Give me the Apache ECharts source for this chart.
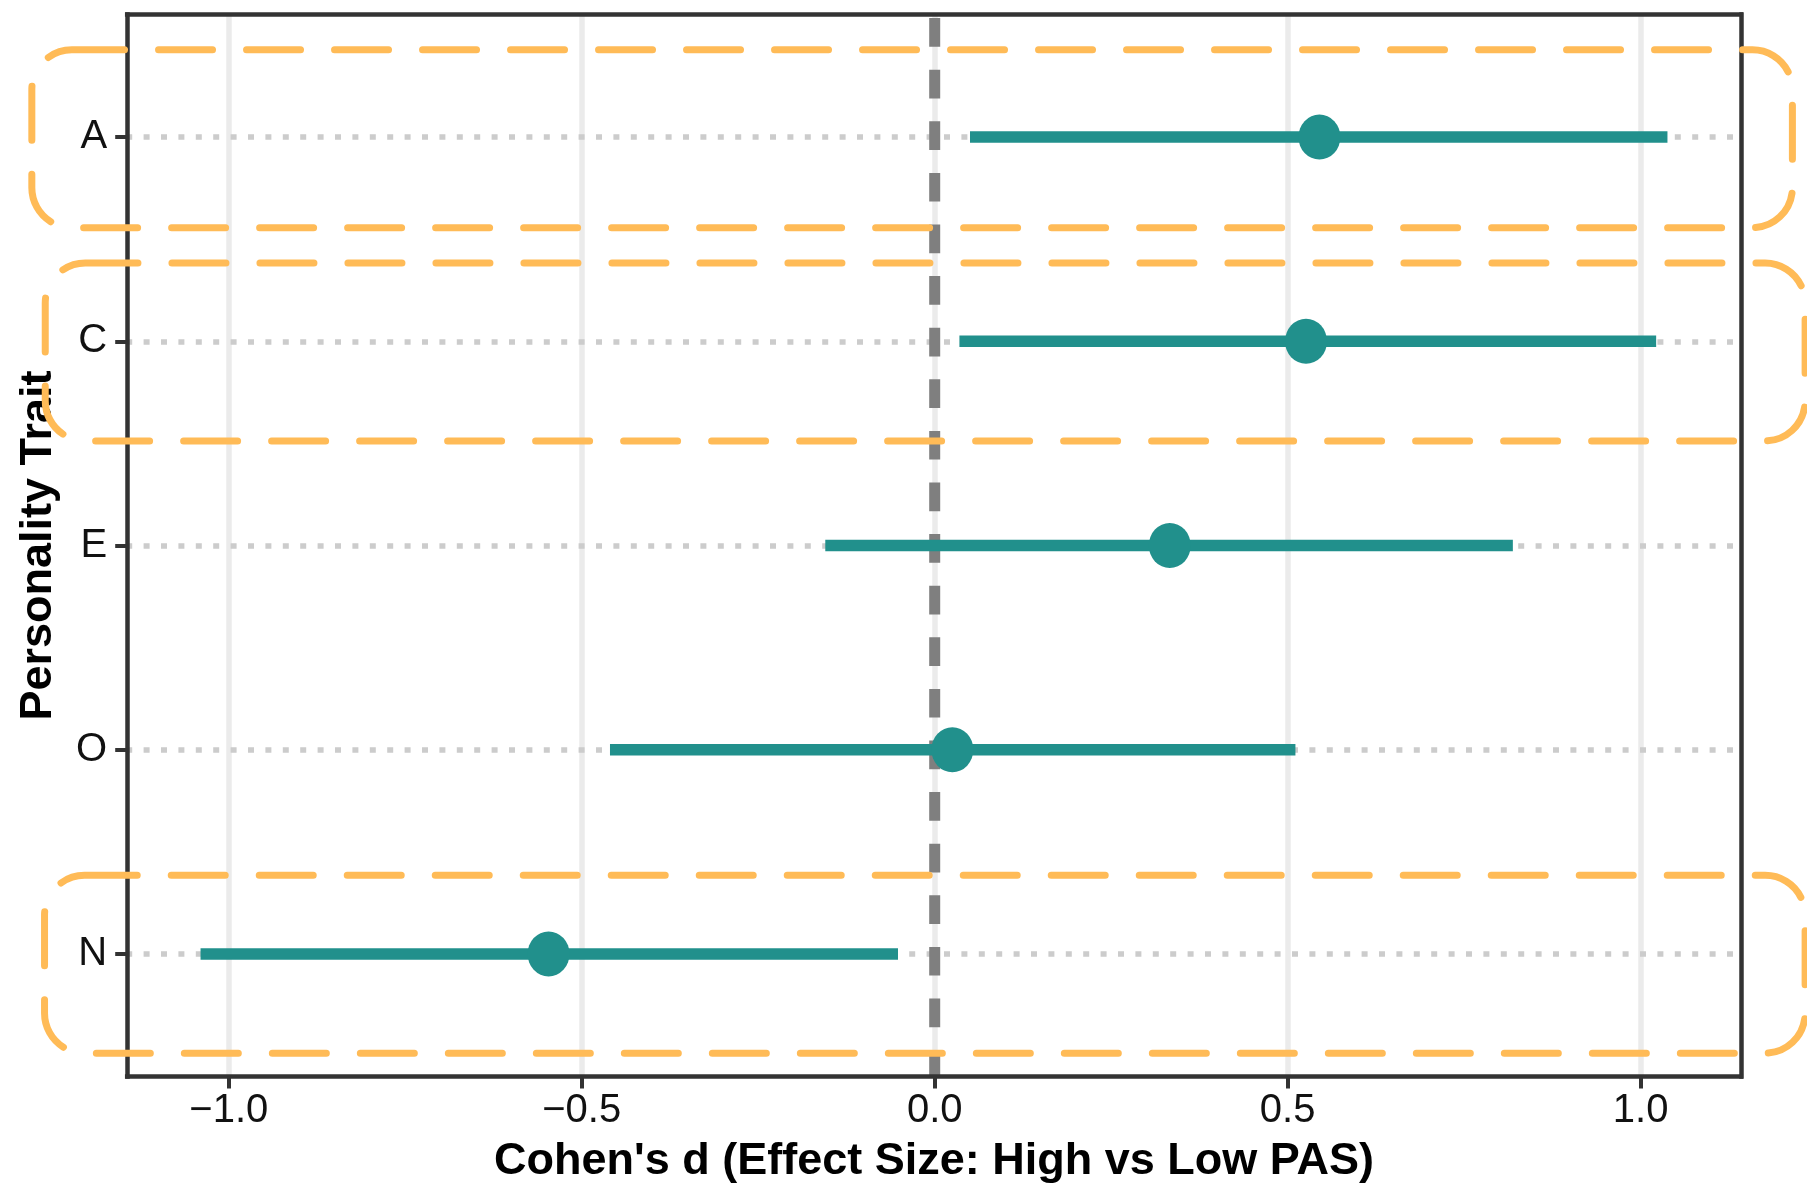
<!DOCTYPE html>
<html>
<head>
<meta charset="utf-8">
<title>Cohen's d by personality trait</title>
<script src="https://cdn.jsdelivr.net/npm/echarts@6/dist/echarts.min.js"></script>
<style>
  html, body { margin: 0; padding: 0; background: #ffffff; }
  #chart { width: 1807px; height: 1199px; }
</style>
</head>
<body>
<div id="chart"></div>
<script>
// Big Five traits, listed top to bottom
const traits = ['A', 'C', 'E', 'O', 'N'];
// Effect size (Cohen's d, high vs low PAS) with its confidence interval
const cohensD = [0.545, 0.526, 0.333, 0.025, -0.547];
const ciLower = [0.050, 0.035, -0.155, -0.460, -1.040];
const ciUpper = [1.038, 1.022, 0.819, 0.511, -0.052];
// x-axis tick values
const xTicks = [-1.0, -0.5, 0.0, 0.5, 1.0];
// no-effect reference
const referenceD = 0;

// highlighted rows (extents in data units)
const highlightTraits = ['A', 'C', 'N'];
const highlightXFrom = [-1.279, -1.260, -1.261];
const highlightXTo = [1.215, 1.233, 1.233];
const highlightYFrom = [4.556, 3.512, 0.514];
const highlightYTo = [5.427, 4.383, 1.385];

const FONT = '"Liberation Sans", Arial, Helvetica, sans-serif';
const TEAL = '#21908C';

// discrete rows: top row gets the highest position
const rowPos = traits.map((t, i) => traits.length - i);
const yMin = 0.4;
const yMax = traits.length + 0.6;

// continuous x range padded by 5% on each side
const lo = Math.min(...ciLower, referenceD);
const hi = Math.max(...ciUpper, referenceD);
const pad = (hi - lo) * 0.05;
const xMin = lo - pad;
const xMax = hi + pad;

const fmtTick = v => (v < 0 ? '\u2212' : '') + Math.abs(v).toFixed(1);
const traitAt = v => traits[traits.length - Math.round(v)];

const frameLine = { color: '#333333', width: 4.5, cap: 'square' };

const chart = echarts.init(document.getElementById('chart'), null, { renderer: 'canvas' });

chart.setOption({
  animation: false,
  backgroundColor: '#ffffff',
  textStyle: { fontFamily: FONT },
  grid: {
    left: 127.2, right: 66.2, top: 14.5, bottom: 122.5,
    containLabel: false, outerBoundsMode: 'none'
  },
  xAxis: [
    {
      type: 'value', position: 'bottom', min: xMin, max: xMax, z: 6,
      splitLine: { show: false },
      axisLine: { show: true, onZero: false, lineStyle: frameLine },
      axisTick: { show: true, customValues: xTicks, length: 12, lineStyle: { color: '#333333', width: 4 } },
      axisLabel: {
        customValues: xTicks, formatter: fmtTick, margin: 14,
        fontSize: 40, color: '#111111', fontFamily: FONT
      },
      name: "Cohen's d (Effect Size: High vs Low PAS)",
      nameLocation: 'middle', nameGap: 63,
      nameTextStyle: { fontSize: 45, fontWeight: 'bold', color: '#000000', fontFamily: FONT }
    },
    {
      type: 'value', position: 'top', min: xMin, max: xMax, z: 6,
      splitLine: { show: false },
      axisLine: { show: true, onZero: false, lineStyle: frameLine },
      axisTick: { show: false }, axisLabel: { show: false }
    }
  ],
  yAxis: [
    {
      type: 'value', position: 'left', min: yMin, max: yMax, z: 6,
      splitLine: { show: false },
      axisLine: { show: true, onZero: false, lineStyle: frameLine },
      axisTick: { show: true, customValues: rowPos, length: 12, lineStyle: { color: '#333333', width: 4 } },
      axisLabel: {
        customValues: rowPos, formatter: traitAt, margin: 20,
        fontSize: 40, color: '#111111', fontFamily: FONT
      },
      name: 'Personality Trait',
      nameLocation: 'middle', nameGap: 66,
      nameTextStyle: { fontSize: 45, fontWeight: 'bold', color: '#000000', fontFamily: FONT }
    },
    {
      type: 'value', position: 'right', min: yMin, max: yMax, z: 6,
      splitLine: { show: false },
      axisLine: { show: true, onZero: false, lineStyle: frameLine },
      axisTick: { show: false }, axisLabel: { show: false }
    }
  ],
  series: [
    {
      // vertical major grid
      type: 'line', data: [], silent: true, z: 1,
      markLine: {
        silent: true, z: 1, symbol: ['none', 'none'], label: { show: false },
        emphasis: { disabled: true },
        lineStyle: { color: '#ebebeb', width: 5.5, type: 'solid' },
        data: xTicks.map(v => ({ xAxis: v }))
      }
    },
    {
      // dotted row guides
      type: 'line', data: [], silent: true, z: 2,
      markLine: {
        silent: true, z: 2, symbol: ['none', 'none'], label: { show: false },
        emphasis: { disabled: true },
        lineStyle: { color: '#cccccc', width: 5.5, type: [6, 11.4], dashOffset: 1 },
        data: rowPos.map(v => ({ yAxis: v }))
      }
    },
    {
      // no-effect line
      type: 'line', silent: true, z: 3, symbol: 'none', showSymbol: false,
      data: [[referenceD, yMax], [referenceD, yMin]],
      lineStyle: { color: '#7f7f7f', width: 11, type: [28.7, 22.9], dashOffset: 48 }
    },
    {
      // confidence intervals
      type: 'custom', silent: true, z: 4,
      encode: { x: [0, 1], y: 2 },
      data: traits.map((t, i) => [ciLower[i], ciUpper[i], rowPos[i]]),
      renderItem: (params, api) => {
        const a = api.coord([api.value(0), api.value(2)]);
        const b = api.coord([api.value(1), api.value(2)]);
        return {
          type: 'line',
          shape: { x1: a[0], y1: a[1], x2: b[0], y2: b[1] },
          style: { stroke: TEAL, lineWidth: 11.5, lineCap: 'butt' }
        };
      }
    },
    {
      // point estimates
      type: 'scatter', silent: true, z: 5,
      symbol: 'circle', symbolSize: [42, 45],
      itemStyle: { color: TEAL, opacity: 1 },
      data: traits.map((t, i) => [cohensD[i], rowPos[i]])
    },
    {
      // rounded dashed highlight frames
      type: 'custom', silent: true, z: 7, clip: false,
      encode: { x: [0, 1], y: [2, 3] },
      data: highlightTraits.map((t, i) => [highlightXFrom[i], highlightXTo[i], highlightYFrom[i], highlightYTo[i]]),
      renderItem: (params, api) => {
        const tl = api.coord([api.value(0), api.value(3)]);
        const br = api.coord([api.value(1), api.value(2)]);
        return {
          type: 'rect',
          shape: { x: tl[0], y: tl[1], width: br[0] - tl[0], height: br[1] - tl[1], r: 40 },
          style: {
            fill: 'none', stroke: '#ffbb57', lineWidth: 7,
            lineDash: [54, 34], lineDashOffset: 1.3, lineCap: 'round'
          }
        };
      }
    }
  ]
});
</script>
</body>
</html>
